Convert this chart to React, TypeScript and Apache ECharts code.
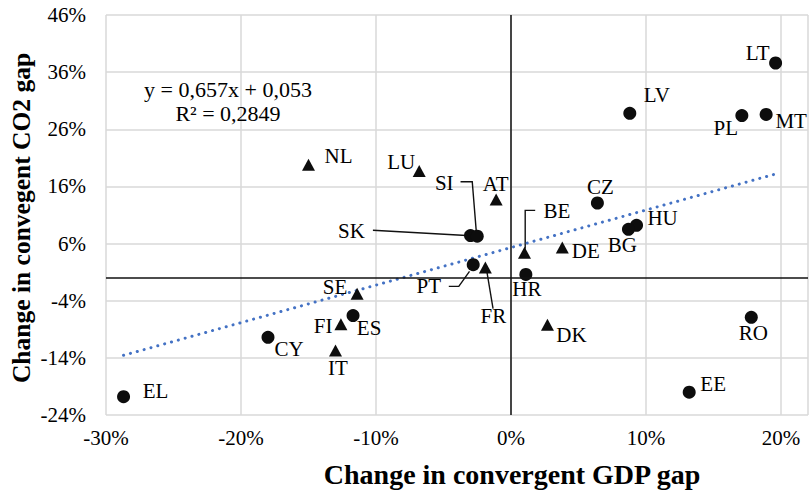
import React, { useEffect, useRef } from 'react';
import * as echarts from 'echarts';

// ---- data (percent units) ----
const circleCodes = ['LT', 'LV', 'PL', 'MT', 'CZ', 'HU', 'BG', 'SK', 'SI', 'PT', 'HR', 'ES', 'CY', 'EL', 'RO', 'EE'];
const circleX = [19.6, 8.8, 17.1, 18.9, 6.4, 9.3, 8.7, -3.0, -2.5, -2.8, 1.1, -11.7, -18.0, -28.7, 17.8, 13.2];
const circleY = [37.6, 28.8, 28.4, 28.6, 13.1, 9.2, 8.5, 7.4, 7.3, 2.3, 0.6, -6.6, -10.4, -20.8, -6.9, -20.0];

const triCodes = ['NL', 'LU', 'AT', 'BE', 'DE', 'FR', 'SE', 'FI', 'IT', 'DK'];
const triX = [-15.0, -6.8, -1.1, 1.0, 3.8, -1.9, -11.4, -12.6, -13.0, 2.7];
const triY = [19.8, 18.7, 13.7, 4.4, 5.3, 1.8, -2.8, -8.1, -12.7, -8.2];

const trendSlope = 0.657;
const trendIntercept = 5.3; // 0,053 expressed in percentage points
const equationLines = ['y = 0,657x + 0,053', 'R² = 0,2849'];

const xMin = -30;
const xMax = 22;
const xStep = 10;
const yMin = -24;
const yMax = 46;
const yStep = 10;

const xTitle = 'Change in convergent GDP gap';
const yTitle = 'Change in convegent CO2 gap';

// ---- label placement (pixel offsets of label centre from marker centre) ----
const labelOffsets: Record<string, [number, number]> = {
  LT: [-18, -10], LV: [27, -18.5], PL: [-16, 12.5], MT: [25, 7], CZ: [3, -16],
  HU: [26, -7], BG: [-6, 15.5], SK: [-119, -4.5], SI: [-33, -53.5], PT: [-44.5, 21.5],
  HR: [1, 15], ES: [16, 12], CY: [21, 12], EL: [32, -6], RO: [2, 15.5], EE: [24, -8],
  NL: [30, -8.5], LU: [-18, -9], AT: [-0.5, -16], BE: [32.5, -41.5], DE: [23.5, 3.5],
  FR: [8, 48], SE: [-22, -6.5], FI: [-17.7, 1.7], IT: [2.5, 18], DK: [24, 10],
};

// leader lines: pixel offsets relative to the marker centre
const leaderLines: Record<string, [number, number][]> = {
  SK: [[-97.6, -5.3], [-4, 0]],
  SI: [[-16.7, -54.4], [-5, -54.4], [-1, -5]],
  PT: [[-24.4, 21.7], [-14.4, 21.7], [-3.7, 6.7]],
  FR: [[7.7, 41], [1.7, 5]],
  BE: [[10.7, -42.3], [0.7, -42.3], [0.7, -4]],
};

const FONT = "'Liberation Serif', 'Times New Roman', serif";
const INK = '#000000';
const MARK = '#0d0d0d';

export default function App() {
  const ref = useRef<HTMLDivElement>(null);

  useEffect(() => {
    if (!ref.current) return;
    const chart = echarts.init(ref.current, null, { renderer: 'svg' });

    const allX = [...circleX, ...triX];
    const tx0 = Math.min(...allX);
    const tx1 = Math.max(...allX);
    const trendData = [
      [tx0, trendSlope * tx0 + trendIntercept],
      [tx1, trendSlope * tx1 + trendIntercept],
    ];

    const mkItems = (codes: string[], xs: number[], ys: number[]) =>
      codes.map((c, i) => ({
        name: c,
        value: [xs[i], ys[i]],
        label: { offset: labelOffsets[c] || [0, 0] },
      }));

    const labelStyle = {
      show: true,
      position: 'inside',
      formatter: (p: any) => p.name,
      color: INK,
      opacity: 1,
      fontFamily: FONT,
      fontSize: 21,
      textBorderWidth: 0,
    };

    chart.setOption({
      animation: false,
      backgroundColor: '#ffffff',
      grid: { left: 106, right: 1, top: 15, bottom: 77, outerBoundsMode: 'none' },
      xAxis: {
        type: 'value',
        min: xMin,
        max: xMax,
        interval: xStep,
        axisLine: { show: false },
        axisTick: { show: false },
        splitLine: { show: true, lineStyle: { color: '#d9d9d9', width: 1.5 } },
        axisLabel: {
          color: INK,
          fontFamily: FONT,
          fontSize: 21,
          margin: 12,
          formatter: (v: number) => (v % xStep === 0 ? `${v}%` : ''),
        },
      },
      yAxis: {
        type: 'value',
        min: yMin,
        max: yMax,
        interval: yStep,
        axisLine: { show: false },
        axisTick: { show: false },
        splitLine: { show: true, lineStyle: { color: '#d9d9d9', width: 1.5 } },
        axisLabel: {
          color: INK,
          fontFamily: FONT,
          fontSize: 21,
          margin: 20,
          formatter: (v: number) => `${v}%`,
        },
      },
      series: [
        {
          type: 'line',
          data: trendData,
          showSymbol: false,
          silent: true,
          lineStyle: { color: '#4472C4', width: 3, type: [0.1, 7], cap: 'round' },
          z: 1,
        },
        {
          type: 'scatter',
          symbol: 'circle',
          symbolSize: 13,
          itemStyle: { color: MARK, opacity: 1 },
          data: mkItems(circleCodes, circleX, circleY),
          label: labelStyle,
          markLine: {
            silent: true,
            symbol: ['none', 'none'],
            label: { show: false },
            lineStyle: { color: '#111111', width: 1.5, type: 'solid', opacity: 1 },
            data: [{ xAxis: 0 }, { yAxis: 0 }],
            animation: false,
          },
          z: 2,
        },
        {
          type: 'scatter',
          symbol: 'triangle',
          symbolSize: [13, 12],
          itemStyle: { color: MARK, opacity: 1 },
          data: mkItems(triCodes, triX, triY),
          label: labelStyle,
          z: 2,
        },
      ],
    });

    const graphics: any[] = [];
    equationLines.forEach((t, i) => {
      graphics.push({
        type: 'text',
        x: 228,
        y: 89.5 + i * 23.5,
        style: {
          text: t,
          fill: INK,
          font: `22px ${FONT}`,
          textAlign: 'center',
          textVerticalAlign: 'middle',
        },
      });
    });
    graphics.push({
      type: 'text',
      x: 512,
      y: 474,
      style: {
        text: xTitle,
        fill: INK,
        font: `bold 28px ${FONT}`,
        textAlign: 'center',
        textVerticalAlign: 'middle',
      },
    });
    graphics.push({
      type: 'text',
      x: 21,
      y: 218,
      rotation: Math.PI / 2,
      style: {
        text: yTitle,
        fill: INK,
        font: `bold 25.5px ${FONT}`,
        textAlign: 'center',
        textVerticalAlign: 'middle',
      },
    });

    const lookup: Record<string, [number, number]> = {};
    circleCodes.forEach((c, i) => (lookup[c] = [circleX[i], circleY[i]]));
    triCodes.forEach((c, i) => (lookup[c] = [triX[i], triY[i]]));
    Object.keys(leaderLines).forEach((code) => {
      const p = chart.convertToPixel({ gridIndex: 0 }, lookup[code]) as number[];
      if (!p) return;
      graphics.push({
        type: 'polyline',
        z: 1,
        shape: { points: leaderLines[code].map(([dx, dy]) => [p[0] + dx, p[1] + dy]) },
        style: { stroke: '#111111', lineWidth: 1.4, fill: 'none' },
        silent: true,
      });
    });

    chart.setOption({ graphic: graphics });

    return () => chart.dispose();
  }, []);

  return (
    <div
      ref={ref}
      style={{ position: 'absolute', left: 0, top: 0, width: 809, height: 492, background: '#fff' }}
    />
  );
}
